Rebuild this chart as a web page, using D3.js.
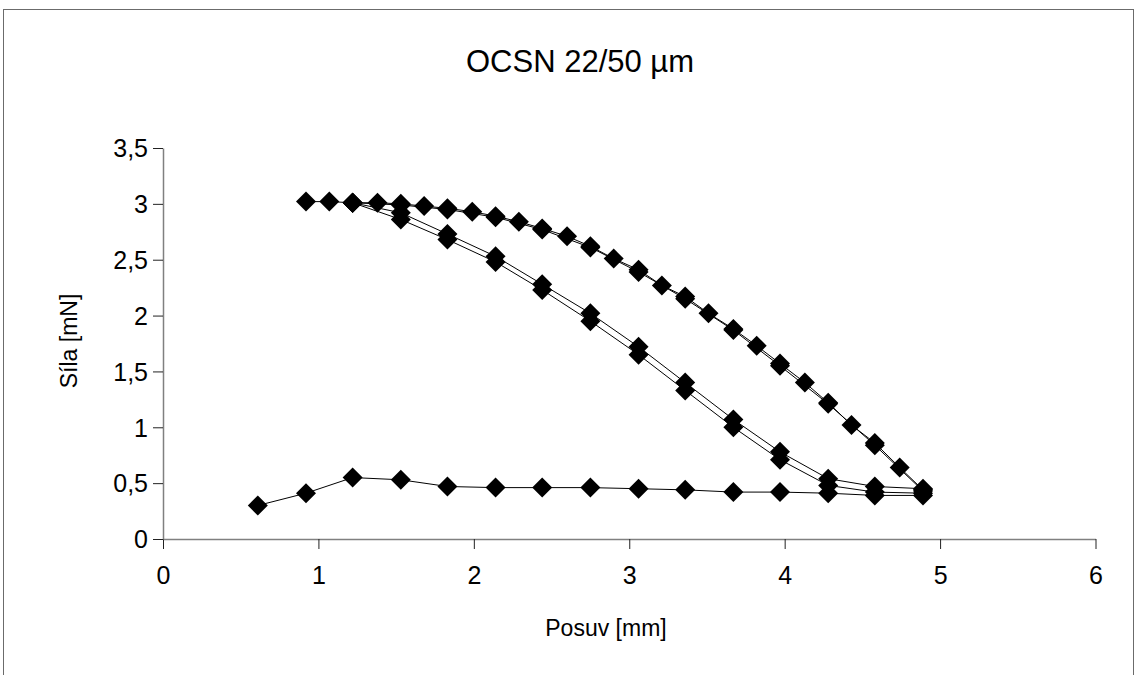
<!DOCTYPE html>
<html><head><meta charset="utf-8">
<script src="https://cdn.jsdelivr.net/npm/d3@7"></script>
<style>body{margin:0;background:#fff} svg{display:block}</style>
</head><body><svg id="c" width="1138" height="675"></svg>
<script>
const chartTitle = "OCSN 22/50 µm";
const xTitle = "Posuv [mm]";
const yTitle = "Síla [mN]";
const xTicks = [0, 1, 2, 3, 4, 5, 6];
const yTicks = [0, 0.5, 1, 1.5, 2, 2.5, 3, 3.5];

// loading curve (bottom)
const loadX = [0.61, 0.92, 1.22, 1.53, 1.83, 2.14, 2.44, 2.75, 3.06, 3.36, 3.67, 3.97, 4.28, 4.58, 4.89];
const loadY = [0.30, 0.41, 0.55, 0.53, 0.47, 0.46, 0.46, 0.46, 0.45, 0.44, 0.42, 0.42, 0.41, 0.39, 0.39];

// outer curve, fine steps
const outerX = [0.92, 1.07, 1.22, 1.38, 1.53, 1.68, 1.83, 1.99, 2.14, 2.29, 2.44, 2.60, 2.75, 2.90, 3.06, 3.21, 3.36, 3.51, 3.67, 3.82, 3.97, 4.13, 4.28, 4.43, 4.58, 4.74, 4.89];
const outerY = [3.02, 3.02, 3.01, 3.01, 3.00, 2.98, 2.96, 2.93, 2.89, 2.84, 2.78, 2.71, 2.62, 2.51, 2.41, 2.27, 2.17, 2.02, 1.88, 1.73, 1.57, 1.40, 1.22, 1.02, 0.86, 0.64, 0.44];

// outer curve, coarse steps
const outer2X = [1.22, 1.53, 1.83, 2.14, 2.44, 2.75, 3.06, 3.36, 3.67, 3.97, 4.28, 4.58, 4.89];
const outer2Y = [3.01, 2.99, 2.95, 2.88, 2.77, 2.61, 2.39, 2.15, 1.87, 1.55, 1.21, 0.84, 0.43];

// middle curves (pair)
const midAX = [1.22, 1.53, 1.83, 2.14, 2.44, 2.75, 3.06, 3.36, 3.67, 3.97, 4.28, 4.58, 4.89];
const midAY = [3.01, 2.92, 2.73, 2.53, 2.28, 2.02, 1.72, 1.40, 1.07, 0.78, 0.54, 0.47, 0.45];
const midBX = [1.22, 1.53, 1.83, 2.14, 2.44, 2.75, 3.06, 3.36, 3.67, 3.97, 4.28, 4.58, 4.89];
const midBY = [3.01, 2.86, 2.68, 2.48, 2.23, 1.95, 1.65, 1.33, 1.00, 0.71, 0.48, 0.42, 0.41];

const series = [
  [loadX, loadY], [outerX, outerY], [outer2X, outer2Y], [midAX, midAY], [midBX, midBY]
];

const svg = d3.select("#c");
const font = "'Liberation Sans', Arial, sans-serif";

svg.append("rect").attr("x", 3.5).attr("y", 9.5).attr("width", 1130).attr("height", 700)
  .attr("fill", "#fff").attr("stroke", "#6b6b6b").attr("stroke-width", 1);

const x = d3.scaleLinear().domain([0, 6]).range([163, 1095.5]);
const y = d3.scaleLinear().domain([0, 3.5]).range([539, 148]);

const fmt = d => String(d).replace(".", ",");

const gx = svg.append("g").attr("transform", "translate(0,539)")
  .call(d3.axisBottom(x).tickValues(xTicks).tickFormat(fmt).tickSize(10).tickSizeOuter(0));
const gy = svg.append("g").attr("transform", "translate(163,0)")
  .call(d3.axisLeft(y).tickValues(yTicks).tickFormat(fmt).tickSize(10).tickSizeOuter(0));

[gx, gy].forEach(g => {
  g.select(".domain").attr("stroke", "#808080").attr("stroke-width", 1.5);
  g.selectAll(".tick line").attr("stroke", "#222").attr("stroke-width", 1);
  g.selectAll(".tick text").attr("font-family", font).attr("font-size", 25).attr("fill", "#000");
});
gx.selectAll(".tick text").attr("dy", null).attr("y", 45);
gy.selectAll(".tick text").attr("x", -15).attr("dy", "0.35em");

const line = d3.line().x(d => x(d[0])).y(d => y(d[1]));
const diamond = d3.symbol().type(d3.symbolSquare).size(200);

series.forEach(([xs, ys]) => {
  const pts = xs.map((v, i) => [v, ys[i]]);
  const g = svg.append("g");
  g.append("path").attr("d", line(pts)).attr("fill", "none").attr("stroke", "#000").attr("stroke-width", 1);
  g.selectAll("path.m").data(pts).enter().append("path").attr("class", "m")
    .attr("d", diamond)
    .attr("transform", d => `translate(${x(d[0])},${y(d[1])}) rotate(45)`)
    .attr("fill", "#000");
});

svg.append("text").attr("x", 580).attr("y", 72).attr("text-anchor", "middle")
  .attr("font-family", font).attr("font-size", 31).text(chartTitle);
svg.append("text").attr("x", 606).attr("y", 636).attr("text-anchor", "middle")
  .attr("font-family", font).attr("font-size", 23).text(xTitle);
svg.append("text").attr("transform", "translate(77,341) rotate(-90)").attr("text-anchor", "middle")
  .attr("font-family", font).attr("font-size", 23).text(yTitle);
</script>
</body></html>
